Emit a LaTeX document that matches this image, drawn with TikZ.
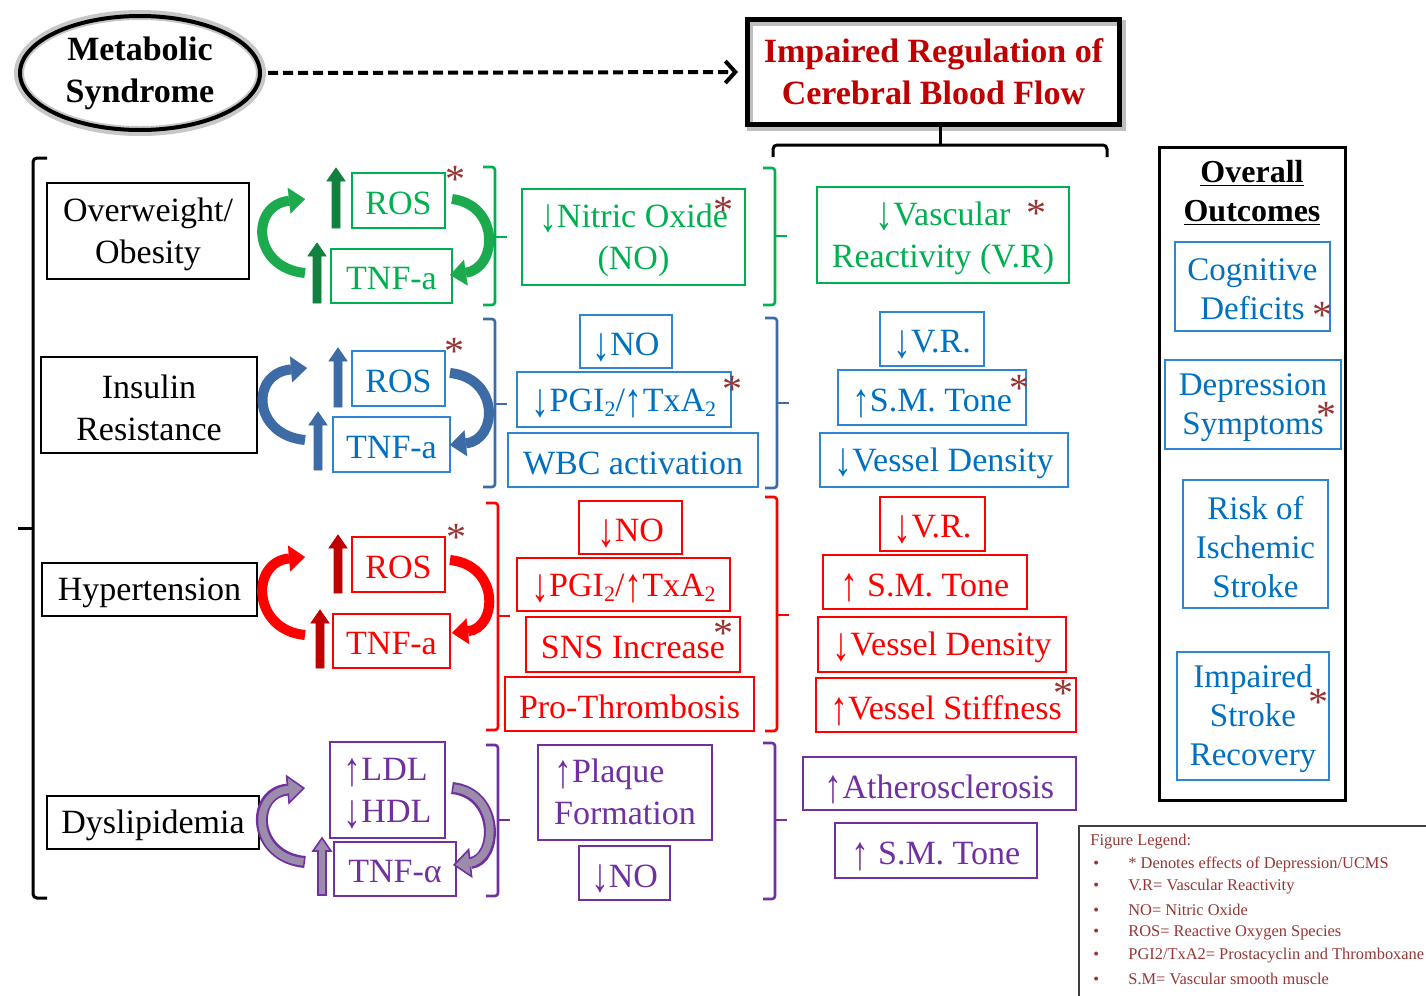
\documentclass[tikz,border=0pt]{standalone}
\usepackage{fontspec}
\usepackage{graphicx}
\setmainfont{Liberation Serif}
\usetikzlibrary{shapes.geometric,arrows.meta}
\definecolor{cgreen}{HTML}{00B050}
\definecolor{cgreenA}{HTML}{1DAA4E}
\definecolor{cgreenD}{HTML}{12803E}
\definecolor{cblue}{HTML}{0070C0}
\definecolor{cblueB}{HTML}{2E86D0}
\definecolor{cblueA}{HTML}{3D6BA5}
\definecolor{cred}{HTML}{FF0000}
\definecolor{credD}{HTML}{C00000}
\definecolor{cpurp}{HTML}{7030A0}
\definecolor{cpurpG}{HTML}{9C8CAC}
\definecolor{cstar}{HTML}{993333}
\definecolor{ctitle}{HTML}{C00000}
\definecolor{cleg}{HTML}{953735}
\newcommand\lowtwo{\raisebox{-0.3ex}{\fontsize{11}{11}\selectfont 2}}
\newcommand\dnar{\smash{\raisebox{-0.14em}{\scalebox{1.05}[1.4]{↓}}}}
\newcommand\upar{\smash{\raisebox{-0.14em}{\scalebox{1.05}[1.4]{↑}}}}
% box drawn as a node, its text as a second node set a little lower
\newcommand\bx[7]{\node[#1, minimum width={(#4-#2)/2}, minimum height={(#5-#3)/2}] (#6) at ({(#2+#4)/2},{(#3+#5)/2}) {};
 \node[#1, draw=none] (#6t) at ({(#2+#4)/2},{(#3+#5)/2+3}) {#7};}
\newcommand\uparrw[4]{\filldraw[#4] (#1-4,#2) -- (#1-4,#3+13) -- (#1-9,#3+13) -- (#1,#3) -- (#1+9,#3+13) -- (#1+4,#3+13) -- (#1+4,#2) -- cycle;}
\newcommand\rbrk[5]{\draw[brk,#5] (#1-12,#2) -- (#1,#2) -- (#1,#3) -- (#1-12,#3); \draw[brk,#5] (#1,#4) -- (#1+12,#4);}
\newcommand\astk[2]{\node[astkst] at (#1,#2+5) {*};}
\tikzset{
 bxbase/.style={inner sep=0pt, outer sep=0pt, align=center, font=\fontsize{17}{21}\selectfont},
 blk/.style={bxbase, draw=black, line width=0.8pt, text=black},
 gbx/.style={bxbase, draw=cgreen, line width=0.9pt, text=cgreen},
 bbx/.style={bxbase, draw=cblueB, line width=0.9pt, text=cblue},
 rbx/.style={bxbase, draw=cred, line width=0.9pt, text=cred},
 pbx/.style={bxbase, draw=cpurp, line width=0.9pt, text=cpurp},
 obx/.style={bxbase, draw=cblueB, line width=0.9pt, text=cblue, font=\fontsize{16.5}{19.5}\selectfont},
 astkst/.style={text=cstar, font=\fontsize{20}{20}\selectfont, inner sep=0pt},
 brk/.style={line width=1.3pt, rounded corners=1.5pt},
 carrow/.style={line width=5pt, -{Triangle[length=8pt,width=13pt,line width=0.1pt]}},
 parrow/.style={line width=6pt, cpurp, -{Triangle[length=9pt,width=15pt,line width=0.8pt,fill=cpurpG]}},
 pinner/.style={line width=3.8pt, cpurpG, shorten >=8pt, shorten <=0.8pt},
 leg/.style={text=cleg, font=\fontsize{8.2}{10}\selectfont, inner sep=0pt, anchor=west},
}
\begin{document}
\begin{tikzpicture}[x=0.5pt,y=-0.5pt]
\useasboundingbox (0,0) rectangle (1426,996);
\fill[white] (0,0) rectangle (1426,996);

% ---- header
\draw[black!22, line width=5pt] (140,73) ellipse [x radius=121, y radius=58];
\node[ellipse, draw, line width=2pt, minimum width=120pt, minimum height=57pt, inner sep=0pt, align=center, font=\fontsize{17}{21}\selectfont\bfseries] (ms) at (140,73) {Metabolic\\Syndrome};
\draw[black!25, line width=3pt] (750,23) rectangle (1123,128);
\node[draw, line width=2.5pt, minimum width=186pt, minimum height=52.5pt, inner sep=0pt, align=center, text=ctitle, font=\fontsize{17}{21}\selectfont\bfseries] (title) at (933.5,72) {Impaired Regulation of\\Cerebral Blood Flow};
\draw[line width=2pt, dash pattern=on 5pt off 2.5pt, -{Straight Barb[length=5pt,width=11pt]}, shorten >=3.5pt, shorten <=3pt] (ms.east) -- (title.west);
\coordinate (tb) at (940,145);
\draw[line width=1.5pt] (tb) -- (tb |- title.south);
\draw[line width=1.5pt, rounded corners=2pt] (773,157) -- (773,145) -- (1107,145) -- (1107,157);

% ---- big left bracket
\draw[line width=1.5pt, rounded corners=2pt] (47,158) -- (33,158) -- (33,898) -- (47,898);
\draw[line width=1.5pt] (33,528) -- (18,528);

% ---- row 1 (green)
\bx{blk}{47}{183}{249}{279}{ob}{Overweight/\\Obesity}
\bx{gbx}{352}{173}{445}{228}{ros1}{ROS}
\bx{gbx}{331}{249}{452}{303}{tnf1}{TNF-a}
\bx{gbx}{522}{189}{745}{285}{no1}{\dnar Nitric Oxide\\(NO)}
\bx{gbx}{817}{187}{1069}{283}{vr1}{\dnar Vascular\\Reactivity (V.R)}
\astk{455}{174}\astk{723}{205}\astk{1036}{208}
\uparrw{336}{228}{168}{cgreenD}
\uparrw{317}{303}{243}{cgreenD}
\coordinate (g1a) at (305,273); \coordinate (g1b) at (305,199);
\coordinate (g1c) at (452,199); \coordinate (g1d) at (450,275);
\draw[carrow, cgreenA] (g1a) .. controls (252,268) and (250,205) .. (g1b);
\draw[carrow, cgreenA] (g1c) .. controls (500,205) and (498,268) .. (g1d);
\rbrk{495}{167}{305}{237}{cgreen}
\rbrk{775}{168}{305}{236}{cgreen}

% ---- row 2 (blue)
\bx{blk}{41}{357}{257}{453}{ir}{Insulin\\Resistance}
\bx{bbx}{352}{351}{445}{406}{ros2}{ROS}
\bx{bbx}{333}{417}{450}{472}{tnf2}{TNF-a}
\bx{bbx}{580}{315}{672}{368}{no2}{\dnar NO}
\bx{bbx}{517}{372}{731}{427}{pg2}{\dnar PGI\lowtwo/\upar TxA\lowtwo}
\bx{bbx}{508}{433}{758}{487}{wbc}{WBC activation}
\bx{bbx}{880}{312}{984}{366}{vr2}{\dnar V.R.}
\bx{bbx}{838}{370}{1026}{425}{sm2}{\upar S.M. Tone}
\bx{bbx}{820}{433}{1068}{487}{vd2}{\dnar Vessel Density}
\astk{454}{346}\astk{732}{384}\astk{1019}{383}
\uparrw{338}{407}{348}{cblueA}
\uparrw{318}{470}{412}{cblueA}
\coordinate (b1a) at (305,440); \coordinate (b1b) at (307,368);
\coordinate (b1c) at (450,373); \coordinate (b1d) at (450,445);
\draw[carrow, cblueA] (b1a) .. controls (252,435) and (250,373) .. (b1b);
\draw[carrow, cblueA] (b1c) .. controls (500,378) and (498,440) .. (b1d);
\rbrk{495}{319}{487}{404}{cblueA}
\rbrk{777}{318}{488}{403}{cblueA}

% ---- row 3 (red)
\bx{blk}{42}{563}{257}{616}{ht}{Hypertension}
\bx{rbx}{352}{537}{445}{592}{ros3}{ROS}
\bx{rbx}{333}{614}{450}{668}{tnf3}{TNF-a}
\bx{rbx}{579}{501}{682}{554}{no3}{\dnar NO}
\bx{rbx}{517}{558}{730}{611}{pg3}{\dnar PGI\lowtwo/\upar TxA\lowtwo}
\bx{rbx}{526}{617}{740}{672}{sns}{SNS Increase}
\bx{rbx}{505}{677}{754}{731}{pt}{Pro-Thrombosis}
\bx{rbx}{880}{497}{985}{551}{vr3}{\dnar V.R.}
\bx{rbx}{823}{555}{1027}{609}{sm3}{\upar\ S.M. Tone}
\bx{rbx}{818}{617}{1066}{672}{vd3}{\dnar Vessel Density}
\bx{rbx}{816}{678}{1076}{732}{vs3}{\upar Vessel Stiffness}
\astk{456}{532}\astk{723}{628}\astk{1063}{688}
\uparrw{338}{593}{535}{credD}
\uparrw{320}{668}{610}{credD}
\coordinate (r1a) at (305,635); \coordinate (r1b) at (305,557);
\coordinate (r1c) at (450,560); \coordinate (r1d) at (452,633);
\draw[carrow, cred] (r1a) .. controls (252,630) and (250,562) .. (r1b);
\draw[carrow, cred] (r1c) .. controls (500,565) and (498,628) .. (r1d);
\rbrk{498}{503}{730}{616}{cred}
\rbrk{777}{497}{731}{615}{cred}

% ---- row 4 (purple)
\bx{blk}{47}{796}{259}{849}{dl}{Dyslipidemia}
\bx{pbx}{330}{742}{445}{838}{ldl}{\begin{tabular}{@{}l@{}}\upar LDL\\\dnar HDL\end{tabular}}
\bx{pbx}{334}{842}{456}{896}{tnf4}{TNF-α}
\bx{pbx}{538}{745}{712}{840}{pf}{\begin{tabular}{@{}l@{}}\upar Plaque\\Formation\end{tabular}}
\bx{pbx}{579}{846}{670}{900}{no4}{\dnar NO}
\bx{pbx}{803}{757}{1076}{810}{ath}{\upar Atherosclerosis}
\bx{pbx}{835}{823}{1037}{878}{sm4}{\upar\ S.M. Tone}
\filldraw[fill=cpurpG, draw=cpurp, line width=0.8pt] (322-4,895) -- (322-4,838+13) -- (322-9,838+13) -- (322,838) -- (322+9,838+13) -- (322+4,838+13) -- (322+4,895) -- cycle;
\coordinate (p1a) at (305,862); \coordinate (p1b) at (305,788);
\coordinate (p1c) at (452,788); \coordinate (p1d) at (453,865);
\draw[parrow] (p1a) .. controls (252,857) and (250,793) .. (p1b);
\draw[pinner] (p1a) .. controls (252,857) and (250,793) .. (p1b);
\draw[parrow] (p1c) .. controls (500,793) and (498,860) .. (p1d);
\draw[pinner] (p1c) .. controls (500,793) and (498,860) .. (p1d);
\rbrk{498}{745}{896}{820}{cpurp}
\rbrk{775}{743}{899}{820}{cpurp}

% ---- outcomes
\node[draw, line width=1.5pt, minimum width=93pt, minimum height=326.5pt, inner sep=0pt] (outc) at (1252,473.5) {};
\node[align=center, inner sep=0pt, font=\fontsize{16}{19.5}\selectfont\bfseries] (oh) at (1252,193) {\underline{Overall}\\\underline{Outcomes}};
\bx{obx}{1175}{242}{1330}{331}{cd}{Cognitive\\Deficits}
\bx{obx}{1165}{360}{1341}{449}{ds}{Depression\\Symptoms}
\bx{obx}{1183}{480}{1328}{608}{ris}{Risk of\\Ischemic\\Stroke}
\bx{obx}{1177}{652}{1329}{780}{isr}{Impaired\\Stroke\\Recovery}
\astk{1322}{310}\astk{1326}{410}\astk{1318}{697}

% ---- legend
\draw[line width=1pt, black!75] (1079,1010) -- (1079,826) -- (1440,826);
\node[leg] (lg0) at (1090,842) {Figure Legend:};
\node[leg] (lg1) at (1093,864) {\makebox[17.5pt][l]{•}* Denotes effects of Depression/UCMS};
\node[leg] (lg2) at (1093,887) {\makebox[17.5pt][l]{•}V.R= Vascular Reactivity};
\node[leg] (lg3) at (1093,910) {\makebox[17.5pt][l]{•}NO= Nitric Oxide};
\node[leg] (lg4) at (1093,933) {\makebox[17.5pt][l]{•}ROS= Reactive Oxygen Species};
\node[leg] (lg5) at (1093,956) {\makebox[17.5pt][l]{•}PGI2/TxA2= Prostacyclin and Thromboxane};
\node[leg] (lg6) at (1093,979) {\makebox[17.5pt][l]{•}S.M= Vascular smooth muscle};
\end{tikzpicture}
\end{document}
